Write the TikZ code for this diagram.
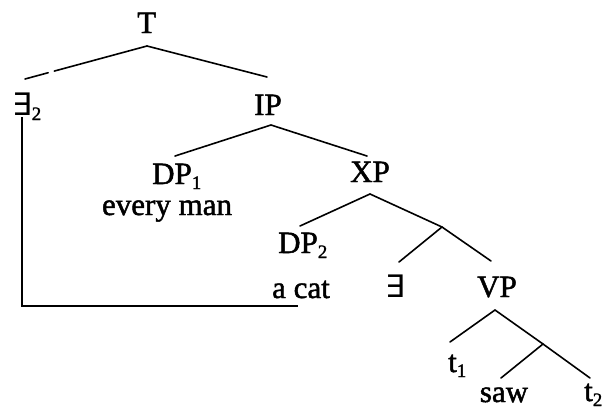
\documentclass[tikz,border=0pt]{standalone}
\usepackage{fontspec}
\setmainfont{Liberation Serif}[FakeBold=1.5]
\newfontfamily\symfont{DejaVu Sans}
\usetikzlibrary{calc}
% subscript digit set below the baseline
\newcommand\subs[1]{\raisebox{-5pt}{\fontsize{19}{20}\selectfont #1}}
\newcommand\ex{{\symfont\fontsize{31}{34}\selectfont ∃}}

\begin{document}
\begin{tikzpicture}[x=1pt,y=-1pt,
    lbl/.style={inner sep=0pt,font=\fontsize{31}{36}\selectfont},
    lblw/.style={lbl,anchor=base west},
    lblc/.style={lbl,anchor=base},
    branch/.style={line width=1.6pt,line cap=round},
    link/.style={line width=1.6pt,line join=miter}]
  \useasboundingbox (0,0) rectangle (606,408);

  % labels
  \node[lblw] (T)    at (137,33)  {T};
  \node[lblw] (E2)   at (12,115)  {\ex\subs{2}};
  \node[lblw] (IP)   at (254,115) {IP};
  \node[lblw] (DP1)  at (152,184) {DP\subs{1}};
  \node[lblc] (em)   at (167,215) {every man};
  \node[lblw] (XP)   at (350,182) {XP};
  \node[lblw] (DP2)  at (278,253) {DP\subs{2}};
  \node[lblc] (cat)  at (301,298) {a cat};
  \node[lblw] (E)    at (385,297) {\ex};
  \node[lblw] (VP)   at (477,297) {VP};
  \node[lblw] (t1)   at (448,372) {t\subs{1}};
  \node[lblc] (saw)  at (504,402) {saw};
  \node[lblw] (t2)   at (584,401) {t\subs{2}};

  % branch points and branch ends
  \coordinate (T-a)   at (147,46);
  \coordinate (T-l)   at (25,79);
  \coordinate (T-r)   at (267,77);
  \coordinate (IP-a)  at (271,125);
  \coordinate (IP-l)  at (175,156);
  \coordinate (IP-r)  at (367,156);
  \coordinate (XP-a)  at (370,194);
  \coordinate (XP-l)  at (300,226);
  \coordinate (Xb-a)  at (442,227);
  \coordinate (Xb-l)  at (399,262);
  \coordinate (Xb-r)  at (491,261);
  \coordinate (VP-a)  at (495,310);
  \coordinate (VP-l)  at (450,342);
  \coordinate (Vb-a)  at (543,344);
  \coordinate (Vb-l)  at (501,378);
  \coordinate (Vb-r)  at (590,378);

  % T: left branch broken by a short gap
  \draw[branch] (T-a) -- ($(T-a)!0.76!(T-l)$);
  \draw[branch] ($(T-a)!0.81!(T-l)$) -- (T-l);
  \draw[branch] (T-a) -- (T-r);
  % IP
  \draw[branch] (IP-l) -- (IP-a) -- (IP-r);
  % XP
  \draw[branch] (XP-l) -- (XP-a) -- (Xb-a);
  \draw[branch] (Xb-l) -- (Xb-a) -- (Xb-r);
  % VP
  \draw[branch] (VP-l) -- (VP-a) -- (Vb-a);
  \draw[branch] (Vb-l) -- (Vb-a) -- (Vb-r);

  % binding link from the quantifier down to the indefinite
  \coordinate (L-top)  at (22,117);
  \coordinate (L-cat)  at (298,306);
  \draw[link] (L-top) |- (L-cat);
\end{tikzpicture}
\end{document}
